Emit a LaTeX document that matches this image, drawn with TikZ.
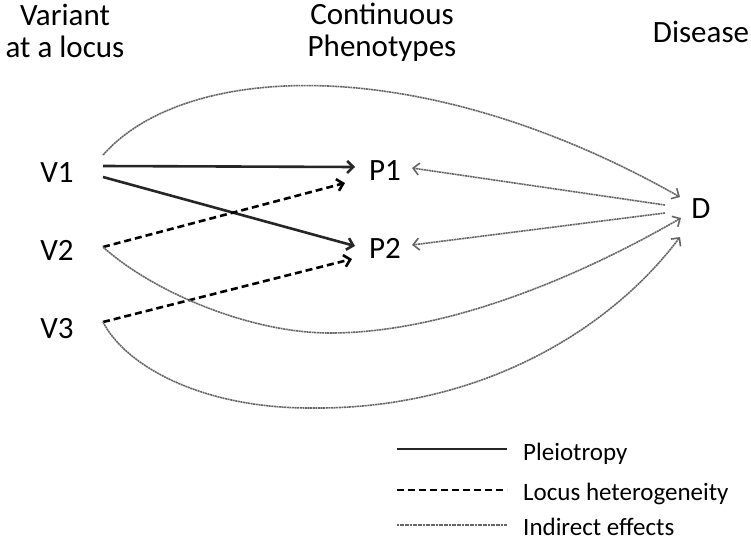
\documentclass[tikz,border=0pt]{standalone}
\usepackage{fontspec}
\setmainfont{Carlito}
\usetikzlibrary{arrows.meta}
\begin{document}
\begin{tikzpicture}[x=1pt,y=-1pt,
  lbl/.style={inner sep=0pt, font=\fontsize{31}{32}\selectfont},
  legtext/.style={inner sep=0pt, anchor=base west, font=\fontsize{25}{26}\selectfont},
  tip/.style={-{Straight Barb[length=6pt,width=12pt]}},
  pleio/.style={line width=2.6pt, draw=black!85},
  hetero/.style={line width=2.6pt, draw=black, dash pattern=on 7pt off 4pt},
  indirect/.style={line width=1.6pt, draw=black!60, dash pattern=on 2pt off 0.6pt},
]
\useasboundingbox (0,0) rectangle (751,543);

% headers
\node[lbl, align=center, anchor=north] (hv) at (65,4) {Variant\\at a locus};
\node[lbl, align=center, anchor=north] (hp) at (382,3) {Continuous\\Phenotypes};
\node[lbl, anchor=base] (hd) at (701,43) {Disease};

% nodes
\node[lbl, anchor=base] (V1) at (57,182) {V1};
\node[lbl, anchor=base] (V2) at (57,260) {V2};
\node[lbl, anchor=base] (V3) at (57,338) {V3};
\node[lbl, anchor=base] (P1) at (385,180) {P1};
\node[lbl, anchor=base] (P2) at (385,258) {P2};
\node[lbl, anchor=base] (D) at (701,218) {D};

% ports
\coordinate (v1top) at (103,155);
\coordinate (v1a) at (103,166);
\coordinate (v1b) at (103,177);
\coordinate (v2o) at (103,247);
\coordinate (v3o) at (103,322);
\coordinate (p1s) at (355,167);
\coordinate (p1d) at (345,183);
\coordinate (p1r) at (412,168);
\coordinate (p2s) at (355,246);
\coordinate (p2d) at (352,259);
\coordinate (p2r) at (412,245);
\coordinate (dtop) at (680,197);
\coordinate (d1) at (665,205);
\coordinate (d2) at (665,213);
\coordinate (dv2) at (681,218);
\coordinate (dv3) at (680,237);

% pleiotropy
\draw[pleio, tip] (v1a) -- (p1s);
\draw[pleio, tip] (v1b) -- (p2s);
% locus heterogeneity
\draw[hetero, tip] (v2o) -- (p1d);
\draw[hetero, tip] (v3o) -- (p2d);
% indirect effects
\draw[indirect, tip] (v1top) .. controls (185,62) and (420,50) .. (dtop);
\draw[indirect, tip] (d1) -- (p1r);
\draw[indirect, tip] (d2) -- (p2r);
\draw[indirect, tip] (v2o) .. controls (153,292) and (250,333) .. (330,333)
   .. controls (450,333) and (586,273) .. (dv2);
\draw[indirect, tip] (v3o) .. controls (125,365) and (200,408) .. (310,408)
   .. controls (480,410) and (610,330) .. (dv3);

% legend
\coordinate (la1) at (397,449); \coordinate (la2) at (507,449);
\coordinate (lb1) at (397,490); \coordinate (lb2) at (507,490);
\coordinate (lc1) at (397,525); \coordinate (lc2) at (507,525);
\draw[pleio] (la1) -- (la2);
\draw[hetero] (lb1) -- (lb2);
\draw[indirect] (lc1) -- (lc2);
\node[legtext] (t1) at (523,460) {Pleiotropy};
\node[legtext] (t2) at (523,500) {Locus heterogeneity};
\node[legtext] (t3) at (523,535) {Indirect effects};
\end{tikzpicture}
\end{document}
